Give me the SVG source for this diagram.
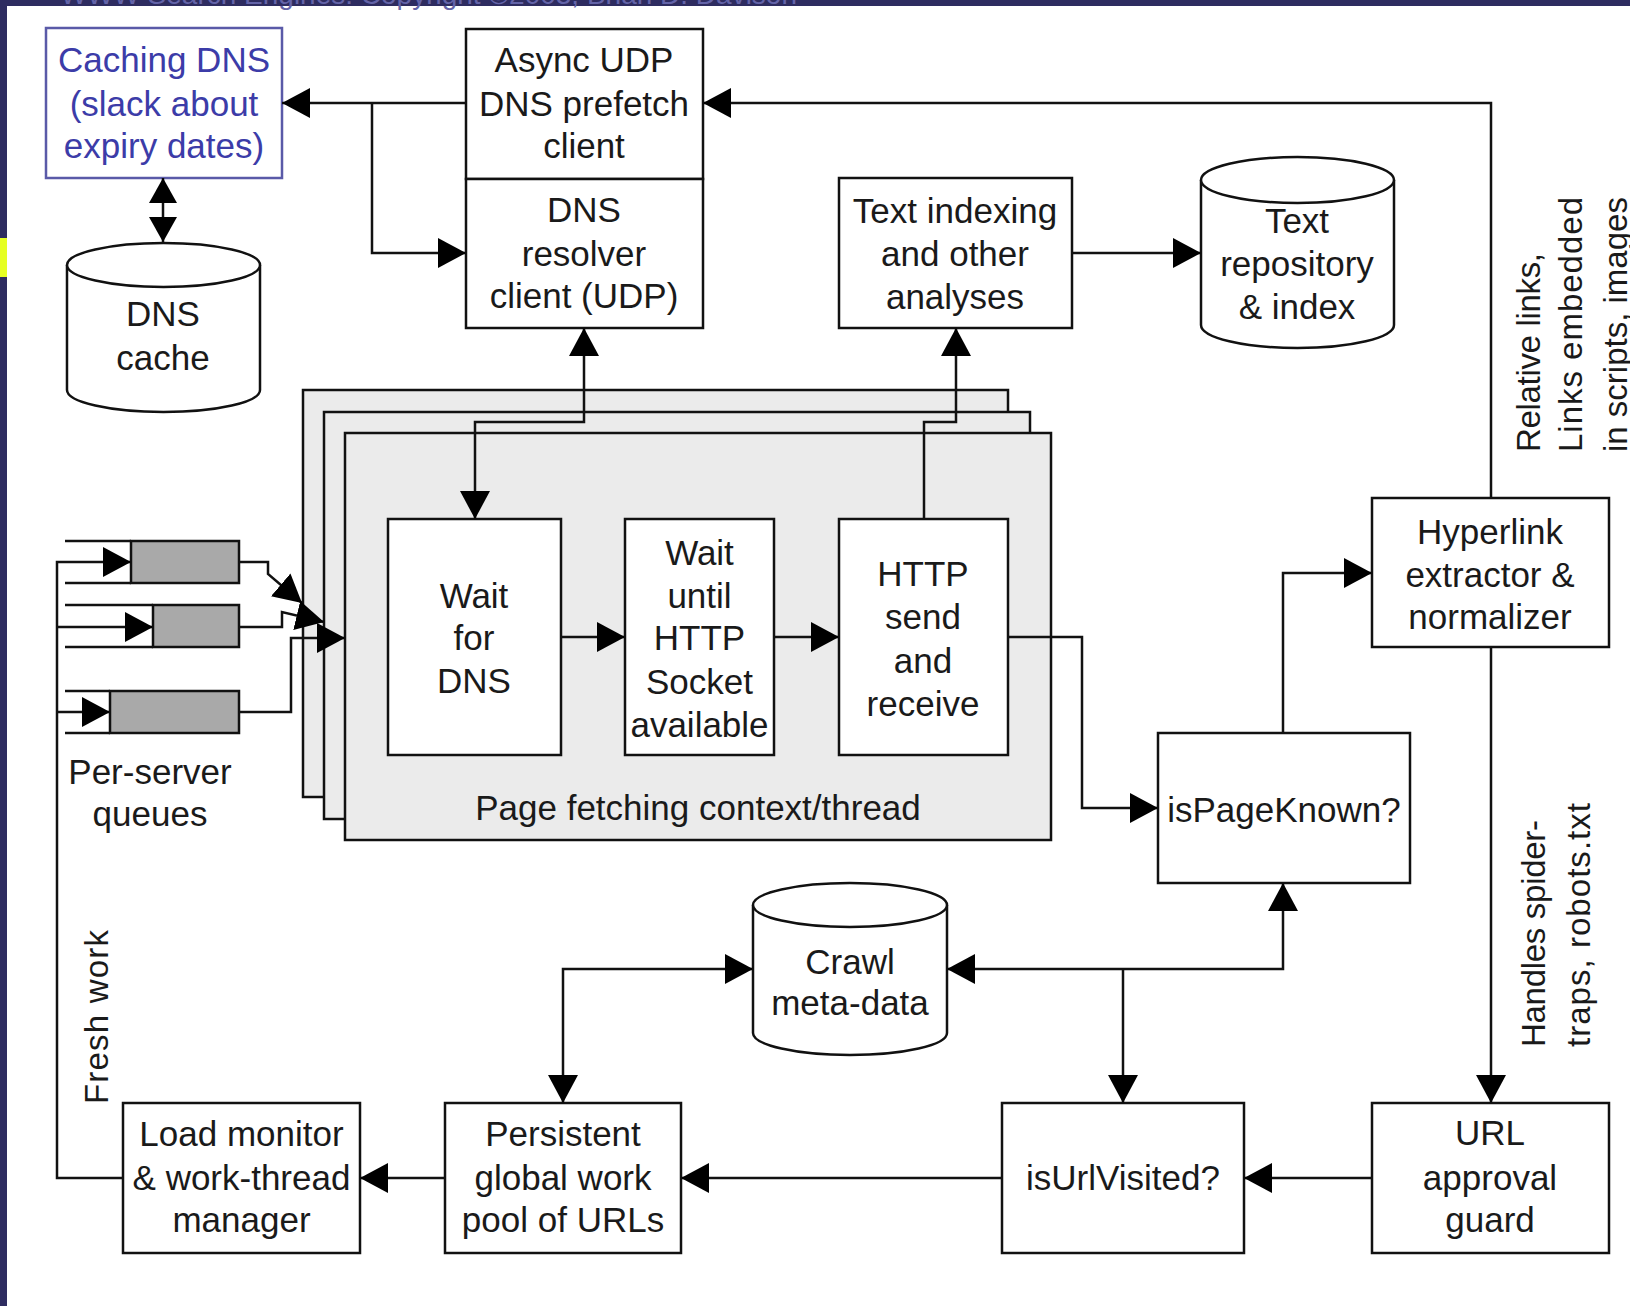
<svg xmlns="http://www.w3.org/2000/svg" width="1630" height="1306" viewBox="0 0 1630 1306">
<defs>
<style>
.box{fill:#fff;stroke:#111;stroke-width:2.5}
.ctx{fill:#ebebeb;stroke:#111;stroke-width:2.5}
.cyl{fill:#fff;stroke:#111;stroke-width:2.5}
.q{fill:none;stroke:#111;stroke-width:2.5}
.qg{fill:#a9a9a9;stroke:#111;stroke-width:2.5}
.t{font-family:"Liberation Sans",Arial,sans-serif;font-size:35px;fill:#1a1a1a;text-anchor:middle}
.r{font-family:"Liberation Sans",Arial,sans-serif;font-size:33px;fill:#1a1a1a}
.blue{fill:#3c3ca8}
.c{fill:none;stroke:#111;stroke-width:2.5}
</style>
<marker id="ah" markerUnits="userSpaceOnUse" markerWidth="30" markerHeight="32" refX="28" refY="15" orient="auto-start-reverse" viewBox="0 0 30 32">
<path d="M0,0 L28,15 L0,30 z" fill="#000"/>
</marker>
<marker id="ahs" markerUnits="userSpaceOnUse" markerWidth="28" markerHeight="30" refX="25" refY="14" orient="auto-start-reverse" viewBox="0 0 28 30">
<path d="M0,0 L25,14 L0,28 z" fill="#000"/>
</marker>
</defs>
<rect x="0" y="0" width="1630" height="1306" fill="#fff"/>
<g id="frame">
<rect x="0" y="0" width="1630" height="6" fill="#2e2c60"/>
<rect x="0" y="0" width="7" height="1306" fill="#2e2c60"/>
<rect x="0" y="238" width="7" height="39" fill="#e6ff22"/>
<text x="797" y="4" text-anchor="end" font-family="Liberation Sans,Arial,sans-serif" font-size="28" fill="#6464a8">WWW Search Engines:  Copyright ©2003, Brian D. Davison</text>
</g>
<g id="caching-dns">
<rect x="46" y="28" width="236" height="150" fill="#fff" stroke="#5a5aa8" stroke-width="2.5"/>
<text class="t blue" x="164" y="72">Caching DNS</text>
<text class="t blue" x="164" y="116">(slack about</text>
<text class="t blue" x="164" y="158">expiry dates)</text>
</g>
<g id="async-udp">
<rect class="box" x="466" y="29" width="237" height="150"/>
<text class="t" x="584" y="72">Async UDP</text>
<text class="t" x="584" y="116">DNS prefetch</text>
<text class="t" x="584" y="158">client</text>
</g>
<g id="dns-resolver">
<rect class="box" x="466" y="179" width="237" height="149"/>
<text class="t" x="584" y="222">DNS</text>
<text class="t" x="584" y="266">resolver</text>
<text class="t" x="584" y="308">client (UDP)</text>
</g>
<g id="dns-cache">
<path class="cyl" d="M67,265 A96.5,22 0 0 1 260,265 V390 A96.5,22 0 0 1 67,390 Z"/>
<path class="cyl" d="M67,265 A96.5,22 0 0 0 260,265"/>
<text class="t" x="163" y="326">DNS</text>
<text class="t" x="163" y="370">cache</text>
</g>
<g id="text-indexing">
<rect class="box" x="839" y="178" width="233" height="150"/>
<text class="t" x="955" y="223">Text indexing</text>
<text class="t" x="955" y="266">and other</text>
<text class="t" x="955" y="309">analyses</text>
</g>
<g id="text-repository">
<path class="cyl" d="M1201,180 A96.5,23 0 0 1 1394,180 V325 A96.5,23 0 0 1 1201,325 Z"/>
<path class="cyl" d="M1201,180 A96.5,23 0 0 0 1394,180"/>
<text class="t" x="1297" y="233">Text</text>
<text class="t" x="1297" y="276">repository</text>
<text class="t" x="1297" y="319">&amp; index</text>
</g>
<g id="page-fetching-context">
<rect class="ctx" x="303" y="390" width="705" height="407"/>
<rect class="ctx" x="324" y="412" width="706" height="407"/>
<rect class="ctx" x="345" y="433" width="706" height="407"/>
<text class="t" x="698" y="820">Page fetching context/thread</text>
</g>
<g id="wait-for-dns">
<rect class="box" x="388" y="519" width="173" height="236"/>
<text class="t" x="474" y="608">Wait</text>
<text class="t" x="474" y="650">for</text>
<text class="t" x="474" y="693">DNS</text>
</g>
<g id="wait-http-socket">
<rect class="box" x="625" y="519" width="149" height="236"/>
<text class="t" x="699.5" y="565">Wait</text>
<text class="t" x="699.5" y="608">until</text>
<text class="t" x="699.5" y="650">HTTP</text>
<text class="t" x="699.5" y="694">Socket</text>
<text class="t" x="699.5" y="737">available</text>
</g>
<g id="http-send-receive">
<rect class="box" x="839" y="519" width="169" height="236"/>
<text class="t" x="923" y="586">HTTP</text>
<text class="t" x="923" y="629">send</text>
<text class="t" x="923" y="673">and</text>
<text class="t" x="923" y="716">receive</text>
</g>
<g id="per-server-queues">
<rect class="qg" x="131" y="541" width="108" height="42"/>
<path class="q" d="M65,541 H131 M65,583 H131"/>
<rect class="qg" x="153" y="605" width="86" height="42"/>
<path class="q" d="M65,605 H153 M65,647 H153"/>
<rect class="qg" x="110" y="691" width="129" height="42"/>
<path class="q" d="M65,691 H110 M65,733 H110"/>
<text class="t" x="150" y="784">Per-server</text>
<text class="t" x="150" y="826">queues</text>
</g>
<g id="hyperlink-extractor">
<rect class="box" x="1372" y="498" width="237" height="149"/>
<text class="t" x="1490" y="544">Hyperlink</text>
<text class="t" x="1490" y="587">extractor &amp;</text>
<text class="t" x="1490" y="629">normalizer</text>
</g>
<g id="is-page-known">
<rect class="box" x="1158" y="733" width="252" height="150"/>
<text class="t" x="1284" y="822">isPageKnown?</text>
</g>
<g id="crawl-metadata">
<path class="cyl" d="M753,905 A97,22 0 0 1 947,905 V1033 A97,22 0 0 1 753,1033 Z"/>
<path class="cyl" d="M753,905 A97,22 0 0 0 947,905"/>
<text class="t" x="850" y="974">Crawl</text>
<text class="t" x="850" y="1015">meta-data</text>
</g>
<g id="url-approval-guard">
<rect class="box" x="1372" y="1103" width="237" height="150"/>
<text class="t" x="1490" y="1145">URL</text>
<text class="t" x="1490" y="1190">approval</text>
<text class="t" x="1490" y="1232">guard</text>
</g>
<g id="is-url-visited">
<rect class="box" x="1002" y="1103" width="242" height="150"/>
<text class="t" x="1123" y="1190">isUrlVisited?</text>
</g>
<g id="persistent-pool">
<rect class="box" x="445" y="1103" width="236" height="150"/>
<text class="t" x="563" y="1146">Persistent</text>
<text class="t" x="563" y="1190">global work</text>
<text class="t" x="563" y="1232">pool of URLs</text>
</g>
<g id="load-monitor">
<rect class="box" x="123" y="1103" width="237" height="150"/>
<text class="t" x="241.5" y="1146">Load monitor</text>
<text class="t" x="241.5" y="1190">&amp; work-thread</text>
<text class="t" x="241.5" y="1232">manager</text>
</g>
<g id="labels">
<text class="r" transform="translate(108,1017) rotate(-90)" text-anchor="middle" textLength="174">Fresh work</text>
<text class="r" transform="translate(1540,452) rotate(-90)" textLength="199">Relative links,</text>
<text class="r" transform="translate(1582,452) rotate(-90)" textLength="255">Links embedded</text>
<text class="r" transform="translate(1627,452) rotate(-90)">in scripts, images</text>
<text class="r" transform="translate(1545,1047) rotate(-90)" textLength="227">Handles spider-</text>
<text class="r" transform="translate(1590,1047) rotate(-90)" textLength="244">traps, robots.txt</text>
</g>
<g id="connectors">
<path class="c" d="M466,103 H282" marker-end="url(#ah)"/>
<path class="c" d="M372,103 V253 H466" marker-end="url(#ah)"/>
<path class="c" d="M1491,498 V103 H703" marker-end="url(#ah)"/>
<path class="c" d="M163,178 V242" marker-start="url(#ahs)" marker-end="url(#ahs)"/>
<path class="c" d="M1072,253 H1201" marker-end="url(#ah)"/>
<path class="c" d="M584,328 V422 H475 V519" marker-start="url(#ah)" marker-end="url(#ah)"/>
<path class="c" d="M924,519 V422 H956 V328" marker-end="url(#ah)"/>
<path class="c" d="M561,637 H625" marker-end="url(#ah)"/>
<path class="c" d="M774,637 H839" marker-end="url(#ah)"/>
<path class="c" d="M1008,637 H1082 V808 H1158" marker-end="url(#ah)"/>
<path class="c" d="M1283,733 V573 H1372" marker-end="url(#ah)"/>
<path class="c" d="M1491,647 V1103" marker-end="url(#ah)"/>
<path class="c" d="M1372,1178 H1244" marker-end="url(#ah)"/>
<path class="c" d="M1002,1178 H681" marker-end="url(#ah)"/>
<path class="c" d="M445,1178 H360" marker-end="url(#ah)"/>
<path class="c" d="M123,1178 H57 V562 H131" stroke-width="3.5" marker-end="url(#ah)"/>
<path class="c" d="M57,627 H153" marker-end="url(#ah)"/>
<path class="c" d="M57,712 H110" marker-end="url(#ah)"/>
<path class="c" d="M563,1103 V969 H753" marker-start="url(#ah)" marker-end="url(#ah)"/>
<path class="c" d="M947,969 H1283 V883" marker-start="url(#ah)" marker-end="url(#ah)"/>
<path class="c" d="M1123,969 V1103" marker-end="url(#ah)"/>
<path class="c" d="M239,562 H268 V574 L302,603" marker-end="url(#ah)"/>
<path class="c" d="M239,627 H282 V612 L324,622" marker-end="url(#ah)"/>
<path class="c" d="M239,712 H291 V638 H345" marker-end="url(#ah)"/>
</g>
</svg>
